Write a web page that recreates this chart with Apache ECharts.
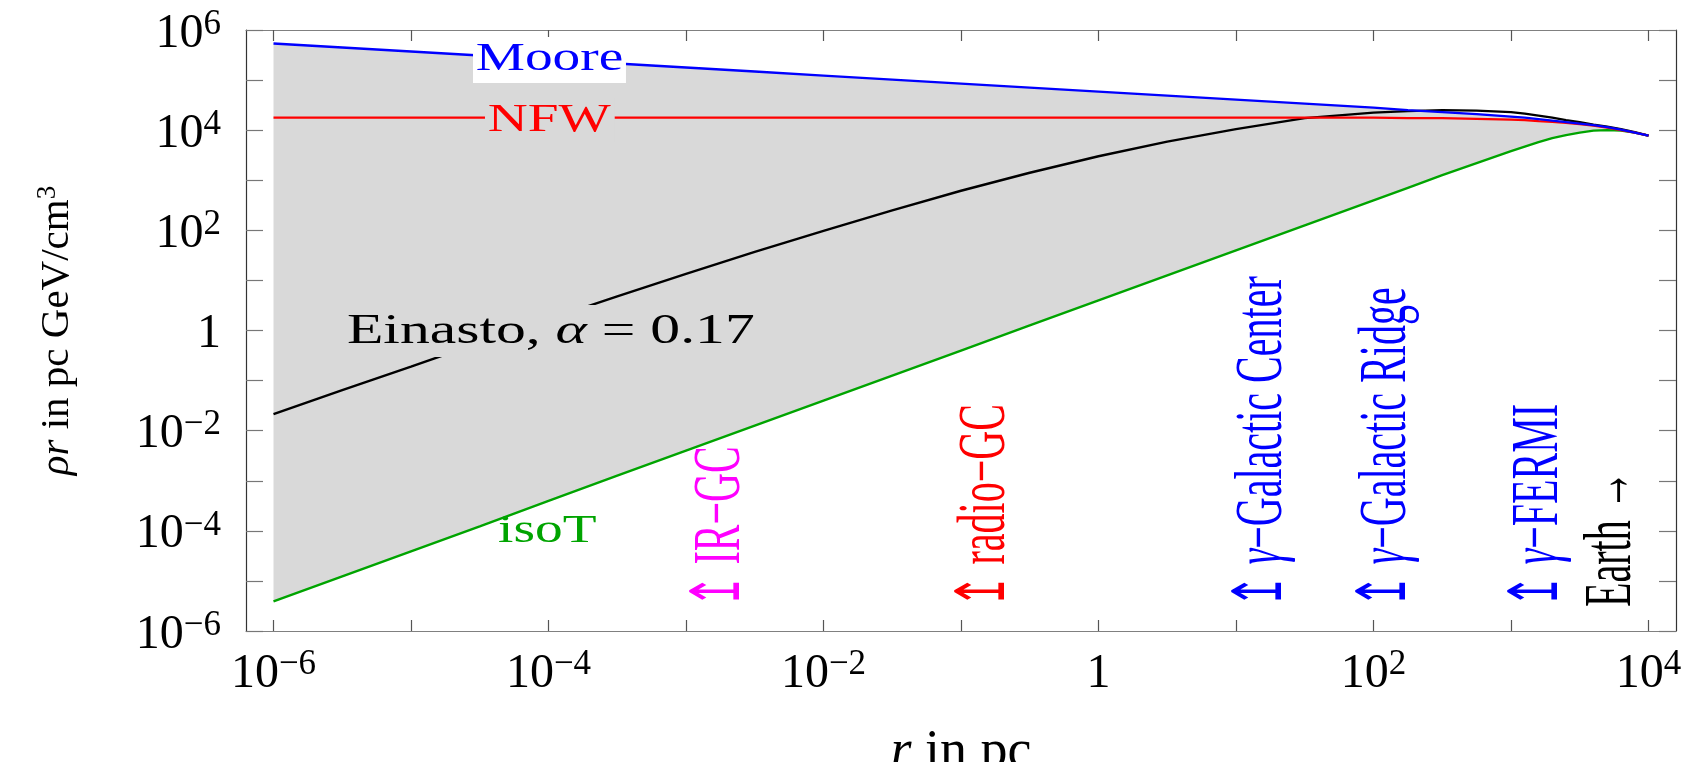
<!DOCTYPE html>
<html>
<head>
<meta charset="utf-8">
<script src="https://cdn.jsdelivr.net/npm/echarts@6/dist/echarts.min.js"></script>
<style>
  html, body { margin: 0; padding: 0; background: #ffffff; }
  #chart { width: 1696px; height: 762px; }
</style>
</head>
<body>
<div id="chart"></div>
<script>
// log10 of the galactocentric radius r in pc (shared sampling for every profile)
const logR = [-6, -5.5, -5, -4.5, -4, -3.5, -3, -2.5, -2, -1.5, -1, -0.5, 0, 0.5, 1, 1.5,
  2, 2.25, 2.5, 2.75, 3, 3.1, 3.2, 3.3, 3.4, 3.5, 3.6, 3.7, 3.8, 3.9, 4];

// log10 of rho*r in pc GeV/cm^3 for each dark-matter halo profile
const mooreLog = [5.73, 5.65, 5.57, 5.49, 5.41, 5.33, 5.25, 5.17, 5.09, 5.01, 4.93, 4.85, 4.77, 4.69, 4.61, 4.53,
  4.45, 4.40, 4.36, 4.32, 4.27, 4.25, 4.22, 4.19, 4.16, 4.13, 4.10, 4.06, 4.01, 3.95, 3.89];
const nfwLog = [4.25, 4.25, 4.25, 4.25, 4.25, 4.25, 4.25, 4.25, 4.25, 4.25, 4.25, 4.25, 4.25, 4.25, 4.25, 4.25,
  4.25, 4.24, 4.24, 4.225, 4.21, 4.20, 4.18, 4.165, 4.145, 4.12, 4.09, 4.05, 4.00, 3.95, 3.89];
const einastoLog = [-1.67, -1.19, -0.72, -0.24, 0.22, 0.68, 1.13, 1.57, 1.99, 2.40, 2.79, 3.15, 3.48, 3.77, 4.02, 4.24,
  4.35, 4.38, 4.40, 4.39, 4.36, 4.33, 4.29, 4.25, 4.20, 4.16, 4.11, 4.07, 4.02, 3.96, 3.89];
const isoTLog = [-5.41, -4.91, -4.41, -3.91, -3.40, -2.90, -2.40, -1.90, -1.40, -0.90, -0.40, 0.10, 0.60, 1.10, 1.60, 2.10,
  2.60, 2.85, 3.10, 3.34, 3.58, 3.67, 3.76, 3.84, 3.90, 3.95, 3.99, 4.00, 3.99, 3.95, 3.89];

// decades carrying tick marks, and the ones that carry a power-of-ten label
const xTickExps = [-6, -5, -4, -3, -2, -1, 0, 1, 2, 3, 4];
const xLabelExps = [-6, -4, -2, 0, 2, 4];
const yTickExps = [-6, -5, -4, -3, -2, -1, 0, 1, 2, 3, 4, 5, 6];
const yLabelExps = [-6, -4, -2, 0, 2, 4, 6];

const SERIF = "'Liberation Serif', 'Times New Roman', serif";
const FILL = '#d9d9d9';
const GREEN = '#00a400';
const LINE_W = 2.4;

function pairs(ys) { return logR.map((x, i) => [x, ys[i]]); }

function powerLabel(v) {
  const e = Math.round(v);
  if (e === 0) return '{b|1}';
  return '{b|10}{s|' + (e < 0 ? '\u2212' + (-e) : String(e)) + '}';
}

const labelRich = {
  b: { fontFamily: SERIF, fontSize: 48, lineHeight: 54, color: '#000' },
  s: { fontFamily: SERIF, fontSize: 35, lineHeight: 34, verticalAlign: 'top', color: '#000' }
};

const xFrame = { show: true, onZero: false, lineStyle: { color: '#808080', width: 1.2 } };
const yFrame = { show: true, onZero: false, lineStyle: { color: '#333333', width: 1.2 } };
const xTicks = { show: true, inside: true, length: 11, customValues: xTickExps, lineStyle: { color: '#555', width: 1.2 } };
const yTicks = { show: true, inside: true, length: 17, customValues: yTickExps, lineStyle: { color: '#777', width: 1.2 } };

const option = {
  animation: false,
  backgroundColor: '#ffffff',
  grid: { left: 246, top: 30, width: 1430, height: 601, containLabel: false, outerBoundsMode: 'none' },
  xAxis: [
    {
      type: 'value', position: 'bottom', min: -6.2, max: 4.2,
      axisLine: xFrame, axisTick: xTicks, splitLine: { show: false },
      axisLabel: { show: true, margin: 16, customValues: xLabelExps, formatter: powerLabel, rich: labelRich },
      name: '{i|r} in pc', nameLocation: 'middle', nameGap: 92, nameMoveOverlap: false,
      nameTextStyle: {
        fontFamily: SERIF, fontSize: 54, color: '#000', lineHeight: 60,
        rich: { i: { fontFamily: SERIF, fontSize: 54, fontStyle: 'italic', color: '#000', lineHeight: 60 } }
      }
    },
    {
      type: 'value', position: 'top', min: -6.2, max: 4.2,
      axisLine: xFrame, axisTick: xTicks, splitLine: { show: false }, axisLabel: { show: false }
    }
  ],
  yAxis: [
    {
      type: 'value', position: 'left', min: -6, max: 6,
      axisLine: yFrame, axisTick: yTicks, splitLine: { show: false },
      axisLabel: { show: true, margin: 25, padding: [8, 0, 0, 0], customValues: yLabelExps, formatter: powerLabel, rich: labelRich },
      name: '{i|\u03C1r} in pc GeV/cm{s|3}', nameLocation: 'middle', nameRotate: 90, nameGap: 166, nameMoveOverlap: false,
      nameTextStyle: {
        fontFamily: SERIF, fontSize: 41, color: '#000', lineHeight: 46,
        rich: {
          i: { fontFamily: SERIF, fontSize: 41, fontStyle: 'italic', color: '#000', lineHeight: 46 },
          s: { fontFamily: SERIF, fontSize: 27, color: '#000', lineHeight: 27, verticalAlign: 'top' }
        }
      }
    },
    {
      type: 'value', position: 'right', min: -6, max: 6,
      axisLine: yFrame, axisTick: yTicks, splitLine: { show: false }, axisLabel: { show: false }
    }
  ],
  series: [
    // shaded band between the isothermal (lower) and Moore (upper) profiles
    {
      name: 'band', type: 'custom', silent: true, z: 1,
      data: logR.map((x, i) => [x, isoTLog[i], mooreLog[i]]),
      encode: { x: 0, y: [1, 2] },
      renderItem: function (params, api) {
        if (params.dataIndex !== 0) return null;
        const upper = logR.map((x, i) => api.coord([x, mooreLog[i]]));
        const lower = logR.map((x, i) => api.coord([x, isoTLog[i]])).reverse();
        return { type: 'polygon', shape: { points: upper.concat(lower) }, style: { fill: FILL } };
      }
    },
    { name: 'isoT', type: 'line', data: pairs(isoTLog), symbol: 'none', lineStyle: { color: GREEN, width: LINE_W }, z: 3 },
    { name: 'Einasto', type: 'line', data: pairs(einastoLog), symbol: 'none', lineStyle: { color: '#000000', width: LINE_W }, z: 3 },
    { name: 'NFW', type: 'line', data: pairs(nfwLog), symbol: 'none', lineStyle: { color: '#ff0000', width: LINE_W }, z: 3 },
    { name: 'Moore', type: 'line', data: pairs(mooreLog), symbol: 'none', lineStyle: { color: '#0000ff', width: LINE_W }, z: 3 }
  ]
};

const chart = echarts.init(document.getElementById('chart'), null, { renderer: 'canvas' });
chart.setOption(option);

// curve names and observation-region markers, placed in data coordinates (log r, log rho*r)
const italic = (size) => ({ fontFamily: SERIF, fontSize: size, fontStyle: 'italic' });
const upright = (size) => ({ fontFamily: SERIF, fontSize: size });
const annotations = [
  { text: 'Moore', at: [-4.549, 5.40], color: '#0000ff', size: 41, stretch: 1.35, bg: '#ffffff', pad: [2, 2, 3, 2] },
  { text: 'NFW', at: [-4.462, 4.203], color: '#ff0000', size: 41, stretch: 1.35, bg: FILL, pad: [2, 3, 2, 2] },
  { text: 'isoT', at: [-4.367, -4.003], color: GREEN, size: 41, stretch: 1.35 },
  { text: '{u|Einasto, }{i|\u03B1}{u| = 0.17}', at: [-5.487, -0.01], color: '#000000', size: 42, stretch: 1.42, bg: FILL, pad: [6, 2, 4, 2] },
  { text: '{u|\u21A5 IR\u2212GC}', at: [-2.745, -5.55], color: '#ff00ff', size: 40, stretch: 1.7, vertical: true },
  { text: '{u|\u21A5 radio\u2212GC}', at: [-0.818, -5.55], color: '#ff0000', size: 40, stretch: 1.7, vertical: true },
  { text: '{u|\u21A5 }{i|\u03B3}{u|\u2212Galactic Center}', at: [1.196, -5.55], color: '#0000ff', size: 40, stretch: 1.7, vertical: true },
  { text: '{u|\u21A5 }{i|\u03B3}{u|\u2212Galactic Ridge}', at: [2.098, -5.55], color: '#0000ff', size: 40, stretch: 1.7, vertical: true },
  { text: '{u|\u21A5 }{i|\u03B3}{u|\u2212FERMI}', at: [3.204, -5.55], color: '#0000ff', size: 40, stretch: 1.7, vertical: true },
  { text: '{u|Earth \u2192}', at: [3.735, -5.52], color: '#000000', size: 40, stretch: 1.7, vertical: true }
];

const graphics = annotations.map((a) => {
  const p = chart.convertToPixel({ xAxisIndex: 0, yAxisIndex: 0 }, a.at);
  const style = {
    text: a.text,
    fill: a.color,
    fontFamily: SERIF,
    fontSize: a.size,
    align: 'left',
    verticalAlign: 'middle',
    rich: { u: upright(a.size), i: italic(a.size) }
  };
  if (a.bg) { style.backgroundColor = a.bg; style.padding = a.pad; }
  return {
    type: 'text',
    x: p[0], y: p[1],
    rotation: a.vertical ? Math.PI / 2 : 0,
    scaleX: a.vertical ? 1 : a.stretch,
    scaleY: a.vertical ? a.stretch : 1,
    z: 100, silent: true,
    style: style
  };
});
chart.setOption({ graphic: graphics });
</script>
</body>
</html>
